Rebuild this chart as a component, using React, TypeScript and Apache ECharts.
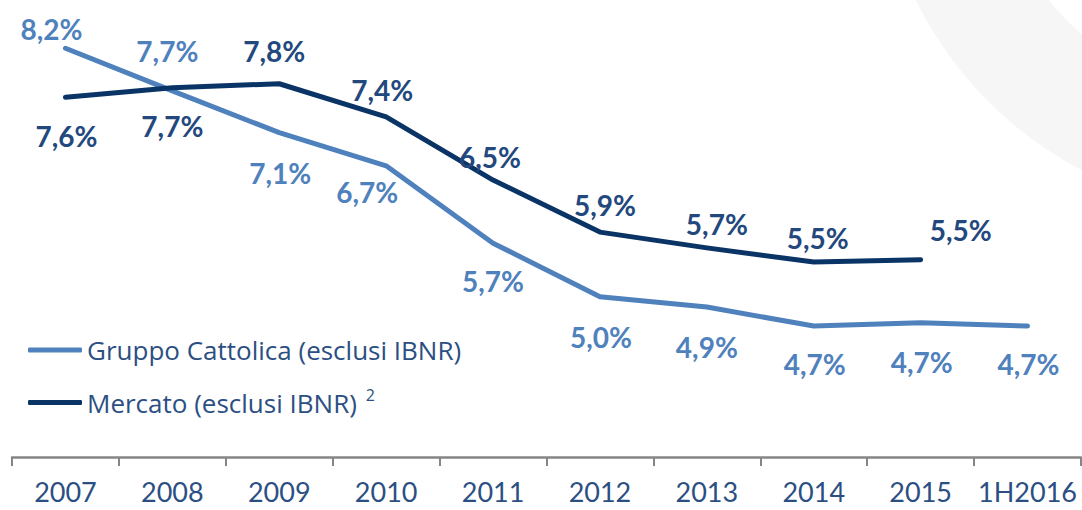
import React, { useEffect, useRef } from "react";
import * as echarts from "echarts";

const categories = ["2007", "2008", "2009", "2010", "2011", "2012", "2013", "2014", "2015", "1H2016"];
const gruppoName = "Gruppo Cattolica (esclusi IBNR)";
const mercatoName = "Mercato (esclusi IBNR)";
const gruppoValues = [8.18, 7.64, 7.11, 6.69, 5.71, 5.03, 4.9, 4.66, 4.7, 4.66];
const gruppoLabels = ["8,2%", "7,7%", "7,1%", "6,7%", "5,7%", "5,0%", "4,9%", "4,7%", "4,7%", "4,7%"];
const mercatoValues = [7.56, 7.68, 7.73, 7.31, 6.51, 5.85, 5.65, 5.47, 5.5, null];
const mercatoLabels = ["7,6%", "7,7%", "7,8%", "7,4%", "6,5%", "5,9%", "5,7%", "5,5%", "5,5%", ""];

// label offsets (layout only)
const gruppoOffsets = [[-14, -19], [-5, -40], [1, 40], [-19, 26], [0, 38], [1, 40], [0, 40], [1, 38], [1, 39], [1, 38]];
const mercatoOffsets = [[1, 39], [0, 38], [-5, -33], [-4, -27], [-3, -23], [5, -27], [10, -24], [4, -24], [40, -30], [0, 0]];

const GRUPPO_COLOR = "#4f81bd";
const MERCATO_COLOR = "#0b3466";
const MERCATO_LABEL = "#22487e";
const TEXT_COLOR = "#2c4f83";

export default function App() {
  const ref = useRef<HTMLDivElement>(null);
  useEffect(() => {
    if (!ref.current) return;
    const chart = echarts.init(ref.current, null, { renderer: "svg" });
    const mkData = (vals: (number | null)[], labels: string[], offs: number[][], color: string) =>
      vals.map((v, i) => ({
        value: v === null ? "-" : v,
        label: {
          show: labels[i] !== "",
          position: "inside",
          offset: offs[i],
          formatter: labels[i],
          color,
          fontFamily: "Lato",
          fontWeight: "bold",
          fontSize: 28,
        },
      }));
    chart.setOption({
      animation: false,
      backgroundColor: "#ffffff",
      graphic: [
        {
          type: "ring",
          z: -100,
          silent: true,
          shape: { cx: 1260, cy: -170, r: 384, r0: 271 },
          style: { fill: "#f6f6f6" },
        },
      ],
      grid: { left: 12, right: 1, top: 23, bottom: 53, containLabel: false },
      legend: {
        orient: "vertical",
        left: 23,
        top: 332,
        itemWidth: 54,
        itemHeight: 5,
        itemGap: 24,
        icon: "roundRect",
        data: [gruppoName, mercatoName],
        formatter: (name: string) => (name === mercatoName ? `{t|${name}}{s|2}` : `{t|${name}}`),
        textStyle: {
          color: TEXT_COLOR,
          fontFamily: "Open Sans",
          fontSize: 26,
          rich: {
            t: { color: TEXT_COLOR, fontFamily: "Open Sans", fontSize: 26, lineHeight: 31 },
            s: { color: TEXT_COLOR, fontFamily: "Open Sans", fontSize: 16, verticalAlign: "top", padding: [0, 0, 14, 9], lineHeight: 16 },
          },
        },
      },
      xAxis: {
        type: "category",
        data: categories,
        boundaryGap: true,
        axisLine: { show: true, lineStyle: { color: "#858585", width: 2.5 } },
        axisTick: { show: true, interval: 0, length: 9, lineStyle: { color: "#858585", width: 2 } },
        axisLabel: { interval: 0, color: TEXT_COLOR, fontFamily: "Lato", fontSize: 27, margin: 21 },
        splitLine: { show: false },
      },
      yAxis: {
        type: "value",
        min: 3,
        max: 8.5,
        show: false,
        splitLine: { show: false },
      },
      series: [
        {
          name: gruppoName,
          type: "line",
          data: mkData(gruppoValues, gruppoLabels, gruppoOffsets, GRUPPO_COLOR),
          symbol: "circle",
          symbolSize: 2,
          showSymbol: true,
          itemStyle: { color: GRUPPO_COLOR },
          lineStyle: { color: GRUPPO_COLOR, width: 5, cap: "round", join: "round" },
          z: 2,
        },
        {
          name: mercatoName,
          type: "line",
          data: mkData(mercatoValues, mercatoLabels, mercatoOffsets, MERCATO_LABEL),
          symbol: "circle",
          symbolSize: 2,
          showSymbol: true,
          itemStyle: { color: MERCATO_COLOR },
          lineStyle: { color: MERCATO_COLOR, width: 5, cap: "round", join: "round" },
          z: 3,
        },
      ],
    });
    return () => chart.dispose();
  }, []);
  return (
    <div
      ref={ref}
      style={{ position: "fixed", left: 0, top: 0, width: 1082, height: 510, background: "#fff" }}
    />
  );
}
